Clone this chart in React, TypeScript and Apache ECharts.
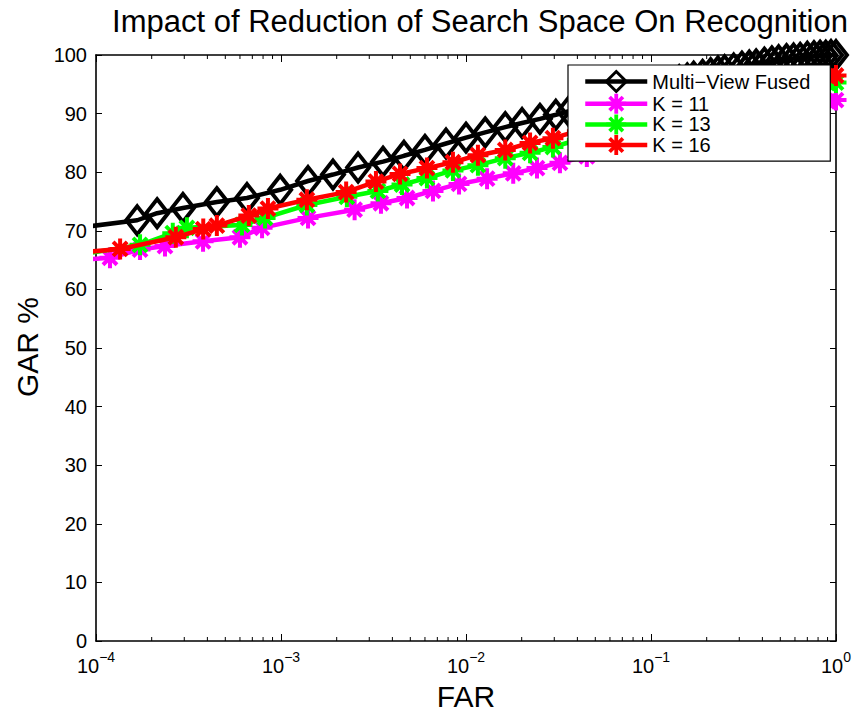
import React, { useEffect, useRef } from "react";
import * as echarts from "echarts";

const FONT = "'Liberation Sans', Arial, Helvetica, sans-serif";

const TITLE = "Impact of Reduction of Search Space On Recognition";
const X_NAME = "FAR";
const Y_NAME = "GAR %";
const SERIES_NAMES = ["Multi\u2212View Fused", "K = 11", "K = 13", "K = 16"];
const SERIES_COLORS = ["#000000", "#ff00ff", "#00ff00", "#ff0000"];

const Y_TICKS = [0, 10, 20, 30, 40, 50, 60, 70, 80, 90, 100];
const X_DECADES = [1e-4, 1e-3, 1e-2, 1e-1, 1];
const X_MINOR_TICKS = [
  2e-4, 3e-4, 4e-4, 5e-4, 6e-4, 7e-4, 8e-4, 9e-4,
  2e-3, 3e-3, 4e-3, 5e-3, 6e-3, 7e-3, 8e-3, 9e-3,
  2e-2, 3e-2, 4e-2, 5e-2, 6e-2, 7e-2, 8e-2, 9e-2,
  0.2, 0.3, 0.4, 0.5, 0.6, 0.7, 0.8, 0.9,
];

// Multi-View Fused
const FUSED_FAR = [
  5e-5, 1.67e-4, 2.14e-4, 2.95e-4, 4.5e-4, 6.55e-4, 9.9e-4, 1.4e-3, 1.91e-3, 2.61e-3,
  3.56e-3, 4.62e-3, 6.0e-3, 7.8e-3, 1.0e-2, 1.27e-2, 1.63e-2, 2.01e-2, 2.51e-2, 3.06e-2,
  0.036, 0.042, 0.049, 0.057, 0.066, 0.076, 0.087, 0.1, 0.113, 0.127,
  0.142, 0.157, 0.17, 0.19, 0.21, 0.23, 0.25, 0.28, 0.31, 0.34,
  0.37, 0.41, 0.45, 0.49, 0.54, 0.59, 0.64, 0.7, 0.76, 0.82,
  0.88, 0.94, 1.0,
];
const FUSED_GAR = [
  69.7, 71.8, 73.0, 73.9, 74.9, 75.6, 77.0, 78.5, 79.6, 80.8,
  81.8, 82.8, 83.8, 84.9, 85.9, 86.8, 87.7, 88.4, 89.1, 89.8,
  90.4, 91.0, 91.6, 92.2, 92.8, 93.4, 93.9, 94.4, 94.9, 95.3,
  95.7, 96.0, 96.3, 96.6, 96.9, 97.2, 97.4, 97.7, 98.0, 98.2,
  98.4, 98.7, 98.9, 99.1, 99.3, 99.4, 99.5, 99.7, 99.8, 99.9,
  99.9, 100, 100,
];

// K = 11
const K11_FAR = [
  8e-5, 1.19e-4, 1.73e-4, 2.36e-4, 3.79e-4, 6.0e-4, 7.9e-4, 1.4e-3, 2.5e-3, 3.47e-3,
  4.8e-3, 6.63e-3, 9.17e-3, 1.3e-2, 1.8e-2, 2.42e-2, 3.22e-2, 0.045, 0.06, 0.08,
  0.1, 0.13, 0.17, 0.22, 0.3, 0.4, 0.5, 0.6, 0.7, 0.8,
  0.9, 1.0,
];
const K11_GAR = [
  65.0, 65.4, 66.8, 67.4, 68.2, 68.9, 70.5, 72.2, 73.6, 74.7,
  75.6, 76.8, 78.0, 78.9, 79.8, 80.7, 81.6, 82.7, 83.7, 84.7,
  85.5, 86.5, 87.4, 88.3, 89.3, 90.1, 90.7, 91.2, 91.6, 91.9,
  92.1, 92.3,
];

// K = 13
const K13_FAR = [
  8e-5, 1.73e-4, 2.6e-4, 3.1e-4, 6.15e-4, 8.2e-4, 1.38e-3, 2.27e-3, 3.34e-3, 4.51e-3,
  6.15e-3, 8.5e-3, 1.16e-2, 1.63e-2, 2.22e-2, 2.95e-2, 0.04, 0.055, 0.075, 0.1,
  0.13, 0.17, 0.22, 0.3, 0.4, 0.5, 0.6, 0.7, 0.8, 0.9,
  1.0,
];
const K13_GAR = [
  65.9, 67.6, 69.6, 70.5, 71.0, 72.2, 74.4, 75.8, 76.8, 77.9,
  79.0, 80.3, 81.2, 82.4, 83.3, 84.3, 85.5, 86.8, 88.0, 89.1,
  90.1, 91.0, 91.9, 92.8, 93.6, 94.2, 94.6, 94.9, 95.1, 95.2,
  95.3,
];

// K = 16
const K16_FAR = [
  7e-5, 1.35e-4, 2.7e-4, 3.8e-4, 4.5e-4, 6.7e-4, 8.5e-4, 1.38e-3, 2.25e-3, 3.26e-3,
  4.4e-3, 6.15e-3, 8.5e-3, 1.16e-2, 1.63e-2, 2.22e-2, 2.95e-2, 0.04, 0.055, 0.075,
  0.1, 0.13, 0.17, 0.22, 0.3, 0.4, 0.5, 0.6, 0.7, 0.8,
  0.9, 1.0,
];
const K16_GAR = [
  66.1, 66.9, 68.9, 70.3, 70.9, 72.6, 73.8, 75.3, 76.6, 78.4,
  79.7, 80.7, 81.7, 82.9, 83.8, 85.0, 85.8, 87.0, 88.2, 89.4,
  90.5, 91.5, 92.4, 93.2, 94.1, 94.8, 95.3, 95.7, 96.0, 96.2,
  96.4, 96.5,
];

const ASTERISK =
  "path://M-2,-10.5L2,-10.5L2,10.5L-2,10.5Z" +
  "M-10.5,-2L10.5,-2L10.5,2L-10.5,2Z" +
  "M-5.6,-8.4L8.4,5.6L5.6,8.4L-8.4,-5.6Z" +
  "M-8.4,5.6L5.6,-8.4L8.4,-5.6L-5.6,8.4Z";

const LINE_WIDTH = 4.5;
const DIAMOND_STROKE = 4;

function zip(xs: number[], ys: number[]): number[][] {
  const n = Math.min(xs.length, ys.length);
  const out: number[][] = [];
  for (let i = 0; i < n; i++) out.push([xs[i], ys[i]]);
  return out;
}

function supLabel(v: number): string {
  const e = Math.round(Math.log10(v));
  const s = e < 0 ? "\u2212" + String(-e) : String(e);
  return `{b|10}{s|${s}}`;
}

export default function App() {
  const ref = useRef<HTMLDivElement>(null);

  useEffect(() => {
    if (!ref.current) return;
    const chart = echarts.init(ref.current, undefined, { renderer: "svg" });

    const axisLine = { show: true, onZero: false, lineStyle: { color: "#000", width: 1.6 } };
    const axisTick = { show: true, inside: true, length: 7, lineStyle: { color: "#000", width: 1 } };

    const lineSeries = (idx: number, data: number[][], marker: "diamond" | "asterisk") => ({
      type: "line",
      name: SERIES_NAMES[idx],
      data,
      xAxisIndex: 0,
      yAxisIndex: 0,
      clip: true,
      silent: true,
      showSymbol: true,
      showAllSymbol: true,
      symbol: marker === "diamond" ? "diamond" : ASTERISK,
      symbolSize: marker === "diamond" ? [22, 28] : 21,
      color: SERIES_COLORS[idx],
      lineStyle: { color: SERIES_COLORS[idx], width: LINE_WIDTH },
      itemStyle:
        marker === "diamond"
          ? { color: "rgba(255,255,255,0)", borderColor: SERIES_COLORS[idx], borderWidth: DIAMOND_STROKE }
          : { color: SERIES_COLORS[idx], borderWidth: 0 },
      emphasis: { disabled: true },
      z: 2 + idx,
    });

    const legendData = SERIES_NAMES.map((name, i) =>
      i === 0
        ? { name, itemStyle: { borderWidth: 3, borderColor: SERIES_COLORS[i], color: "rgba(255,255,255,0)" } }
        : { name, itemStyle: { borderWidth: 0, color: SERIES_COLORS[i] } }
    );

    const option: any = {
      animation: false,
      backgroundColor: "#ffffff",
      textStyle: { fontFamily: FONT, color: "#000" },
      grid: { left: 96, right: 23, top: 55, bottom: 71, containLabel: false },
      legend: {
        data: legendData,
        orient: "vertical",
        left: 568,
        top: 65,
        padding: [5, 20, 6, 15],
        itemWidth: 62,
        itemHeight: 25,
        itemGap: 0.7,
        backgroundColor: "#ffffff",
        borderColor: "#000",
        borderWidth: 1.2,
        borderRadius: 0,
        selectedMode: false,
        lineStyle: { width: LINE_WIDTH },
        textStyle: { fontFamily: FONT, fontSize: 20, color: "#000" },
        z: 20,
      },
      xAxis: [
        {
          type: "log",
          logBase: 10,
          min: X_DECADES[0],
          max: X_DECADES[X_DECADES.length - 1],
          position: "bottom",
          axisLine,
          axisTick,
          splitLine: { show: false },
          axisLabel: {
            show: true,
            margin: 9,
            formatter: supLabel,
            rich: {
              b: { fontSize: 20, fontFamily: FONT, color: "#000", verticalAlign: "bottom" },
              s: { fontSize: 14, fontFamily: FONT, color: "#000", verticalAlign: "top", padding: [0, 0, 12, 0] },
            },
          },
        },
        {
          type: "log",
          logBase: 10,
          min: X_DECADES[0],
          max: X_DECADES[X_DECADES.length - 1],
          position: "top",
          axisLine,
          axisTick,
          splitLine: { show: false },
          axisLabel: { show: false },
        },
      ],
      yAxis: [
        {
          type: "value",
          min: Y_TICKS[0],
          max: Y_TICKS[Y_TICKS.length - 1],
          interval: 10,
          position: "left",
          axisLine,
          axisTick: { ...axisTick, length: 6 },
          splitLine: { show: false },
          axisLabel: { show: true, margin: 9, fontSize: 20, fontFamily: FONT, color: "#000" },
        },
        {
          type: "value",
          min: Y_TICKS[0],
          max: Y_TICKS[Y_TICKS.length - 1],
          interval: 10,
          position: "right",
          axisLine,
          axisTick: { ...axisTick, length: 6 },
          splitLine: { show: false },
          axisLabel: { show: false },
        },
      ],
      series: [
        {
          type: "custom",
          name: "minorTicks",
          xAxisIndex: 0,
          yAxisIndex: 0,
          silent: true,
          clip: false,
          z: 1,
          data: X_MINOR_TICKS.map((v) => [v, Y_TICKS[0]]),
          renderItem: (_params: any, api: any) => {
            const x = api.value(0);
            const b = api.coord([x, Y_TICKS[0]]);
            const t = api.coord([x, Y_TICKS[Y_TICKS.length - 1]]);
            return {
              type: "group",
              children: [
                { type: "line", shape: { x1: b[0], y1: b[1], x2: b[0], y2: b[1] - 4 }, style: { stroke: "#000", lineWidth: 1 } },
                { type: "line", shape: { x1: t[0], y1: t[1], x2: t[0], y2: t[1] + 4 }, style: { stroke: "#000", lineWidth: 1 } },
              ],
            };
          },
        },
        lineSeries(0, zip(FUSED_FAR, FUSED_GAR), "diamond"),
        lineSeries(1, zip(K11_FAR, K11_GAR), "asterisk"),
        lineSeries(2, zip(K13_FAR, K13_GAR), "asterisk"),
        lineSeries(3, zip(K16_FAR, K16_GAR), "asterisk"),
      ],
      graphic: [
        {
          type: "text",
          x: 480,
          y: 21,
          silent: true,
          style: { text: TITLE, fontSize: 31, fontFamily: FONT, fill: "#000", align: "center", verticalAlign: "middle" },
        },
        {
          type: "text",
          x: 466,
          y: 696,
          silent: true,
          style: { text: X_NAME, fontSize: 30, fontFamily: FONT, fill: "#000", align: "center", verticalAlign: "middle" },
        },
        {
          type: "text",
          x: 27,
          y: 347,
          rotation: Math.PI / 2,
          silent: true,
          style: { text: Y_NAME, fontSize: 30, fontFamily: FONT, fill: "#000", align: "center", verticalAlign: "middle" },
        },
      ],
    };

    chart.setOption(option);
    return () => {
      chart.dispose();
    };
  }, []);

  return (
    <div
      ref={ref}
      style={{ position: "fixed", left: 0, top: 0, width: 859, height: 712, background: "#fff" }}
    />
  );
}
